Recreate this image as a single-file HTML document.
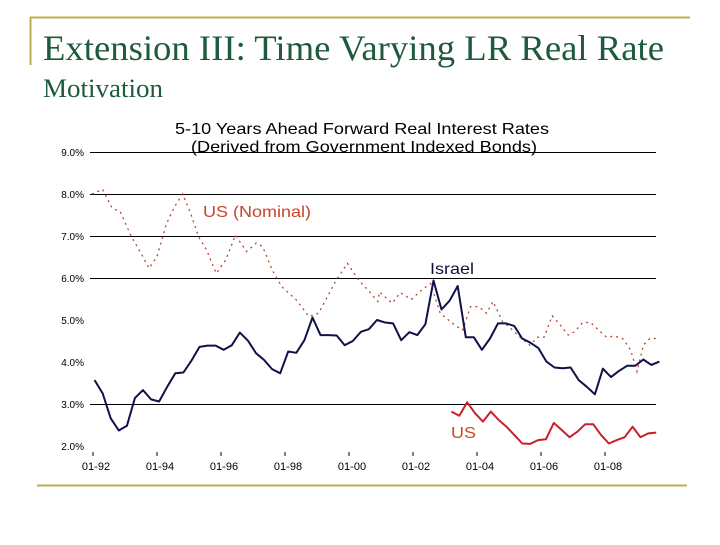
<!DOCTYPE html>
<html><head><meta charset="utf-8"><style>
body{margin:0;background:#fff;width:720px;height:540px;overflow:hidden;font-family:"Liberation Sans",sans-serif}
</style></head><body>
<svg width="720" height="540" viewBox="0 0 720 540">
<line x1="30" y1="17.5" x2="690" y2="17.5" stroke="#bfae4e" stroke-width="2"/>
<line x1="30.5" y1="17" x2="30.5" y2="65" stroke="#bfae4e" stroke-width="2"/>
<line x1="37" y1="485.5" x2="687" y2="485.5" stroke="#bfae4e" stroke-width="2"/>
<text x="43" y="60" font-family="Liberation Serif,serif" font-size="36" textLength="621" lengthAdjust="spacingAndGlyphs" fill="#1e5b3c">Extension III: Time Varying LR Real Rate</text>
<text x="43" y="97" font-family="Liberation Serif,serif" font-size="26" textLength="120" lengthAdjust="spacingAndGlyphs" fill="#1e5b3c">Motivation</text>
<text x="362" y="134" text-anchor="middle" font-size="16" textLength="374" lengthAdjust="spacingAndGlyphs" fill="#000">5-10 Years Ahead Forward Real Interest Rates</text>
<text x="364" y="152" text-anchor="middle" font-size="16" textLength="346" lengthAdjust="spacingAndGlyphs" fill="#000">(Derived from Government Indexed Bonds)</text>
<g id="grid"></g><g id="axes"></g><g id="series"></g>
<text x="203" y="217" font-size="16" textLength="108" lengthAdjust="spacingAndGlyphs" fill="#c8452a">US (Nominal)</text>
<text x="430" y="274" font-size="16" textLength="44" lengthAdjust="spacingAndGlyphs" fill="#101040">Israel</text>
<text x="451" y="438" font-size="16" textLength="25" lengthAdjust="spacingAndGlyphs" fill="#d04a20">US</text>
</svg>
<script>
const yTicks=[2,3,4,5,6,7,8,9];
const gridValues=[3,6,7,8,9];
const xTickYears=[1992,1994,1996,1998,2000,2002,2004,2006,2008];
const xTickLabels=["01-92","01-94","01-96","01-98","01-00","01-02","01-04","01-06","01-08"];
const israelStart=1992.05, israelEnd=2009.7;
const israel=[3.57,3.25,2.66,2.37,2.48,3.14,3.33,3.11,3.06,3.41,3.73,3.75,4.03,4.36,4.39,4.39,4.29,4.40,4.70,4.51,4.21,4.05,3.83,3.73,4.25,4.22,4.52,5.06,4.64,4.64,4.63,4.40,4.50,4.72,4.78,5.00,4.94,
4.92,4.52,4.71,4.64,4.90,5.94,5.25,5.46,5.81,4.59,4.59,4.29,4.56,4.92,4.92,4.86,4.56,4.46,4.33,4.01,3.87,3.85,3.87,3.57,3.41,3.23,3.84,3.64,3.79,3.91,3.91,4.06,3.93,4.01];
const nominalDates=[1991.96,1992.3,1992.6,1992.85,1993.2,1993.5,1993.75,1994.0,1994.3,1994.55,1994.8,1995.05,1995.3,1995.55,1995.85,1996.15,1996.45,1996.8,1997.1,1997.3,1997.6,1997.9,1998.35,1998.75,1999.05,1999.6,1999.95,2000.3,2000.6,2000.9,
2000.95,2001.35,2001.6,2001.95,2002.3,2002.55,2002.85,2003.3,2003.55,2003.8,2004.05,2004.3,2004.5,2004.8,2005.0,2005.3,2005.65,2005.9,2006.1,2006.35,2006.6,2006.85,2007.05,2007.3,2007.55,2007.8,2008.05,2008.3,2008.55,2008.8,2009.0,2009.2,2009.4,2009.6];
const nominal=[8.0,8.11,7.66,7.58,6.98,6.59,6.23,6.51,7.30,7.70,8.0,7.54,6.98,6.67,6.11,6.43,7.02,6.63,6.83,6.75,6.19,5.79,5.48,5.08,5.16,5.95,6.35,5.95,5.71,5.44,
5.67,5.40,5.65,5.49,5.73,5.87,5.16,4.88,4.76,5.32,5.32,5.16,5.44,4.96,4.84,4.62,4.40,4.59,4.59,5.10,4.88,4.64,4.72,4.94,4.94,4.76,4.59,4.62,4.56,4.29,3.77,4.40,4.56,4.56];
const usStart=2003.2, usEnd=2009.6;
const us=[2.82,2.72,3.04,2.78,2.58,2.82,2.62,2.46,2.26,2.06,2.05,2.14,2.16,2.55,2.38,2.21,2.34,2.52,2.52,2.26,2.06,2.14,2.21,2.46,2.21,2.30,2.32];

const NS="http://www.w3.org/2000/svg";
const X=t=>93+(t-1992)*32;
const Y=v=>446-(v-2)*42;
function mk(tag,attrs,parent){const e=document.createElementNS(NS,tag);for(const k in attrs)e.setAttribute(k,attrs[k]);document.getElementById(parent).appendChild(e);return e;}
gridValues.forEach(v=>{
  const l=mk('line',{x1:90,x2:656,y1:Y(v)+.5,y2:Y(v)+.5,stroke:'#000','stroke-width':1},'grid');
  
  
});
yTicks.forEach(v=>{
  const t=mk('text',{x:84,y:Y(v)+4,'text-anchor':'end','font-size':10,fill:'#000'},'axes');
  t.textContent=v.toFixed(1)+'%';
  
  
});
xTickYears.forEach((yr,i)=>{
  const l=mk('line',{x1:X(yr),x2:X(yr),y1:452,y2:456,stroke:'#000'},'axes');
  
  
  const t=mk('text',{x:X(yr)+3,y:470,'text-anchor':'middle','font-size':11,fill:'#000'},'axes');
  t.textContent=xTickLabels[i];
  
  
});
function pts(vals,dates){return vals.map((v,i)=>X(dates[i]).toFixed(1)+','+Y(v).toFixed(1)).join(' ');}
function even(a,b,n){const r=[];for(let i=0;i<n;i++)r.push(a+i*(b-a)/(n-1));return r;}
const nom=mk('polyline',{points:pts(nominal,nominalDates),fill:'none',stroke:'#b8453a','stroke-width':1.3,'stroke-dasharray':'2,4'},'series');


const isr=mk('polyline',{points:pts(israel,even(israelStart,israelEnd,israel.length)),fill:'none',stroke:'#10104a','stroke-width':2,'stroke-linejoin':'round'},'series');


const u=mk('polyline',{points:pts(us,even(usStart,usEnd,us.length)),fill:'none',stroke:'#c8202a','stroke-width':2,'stroke-linejoin':'round'},'series');


</script>
</body></html>
